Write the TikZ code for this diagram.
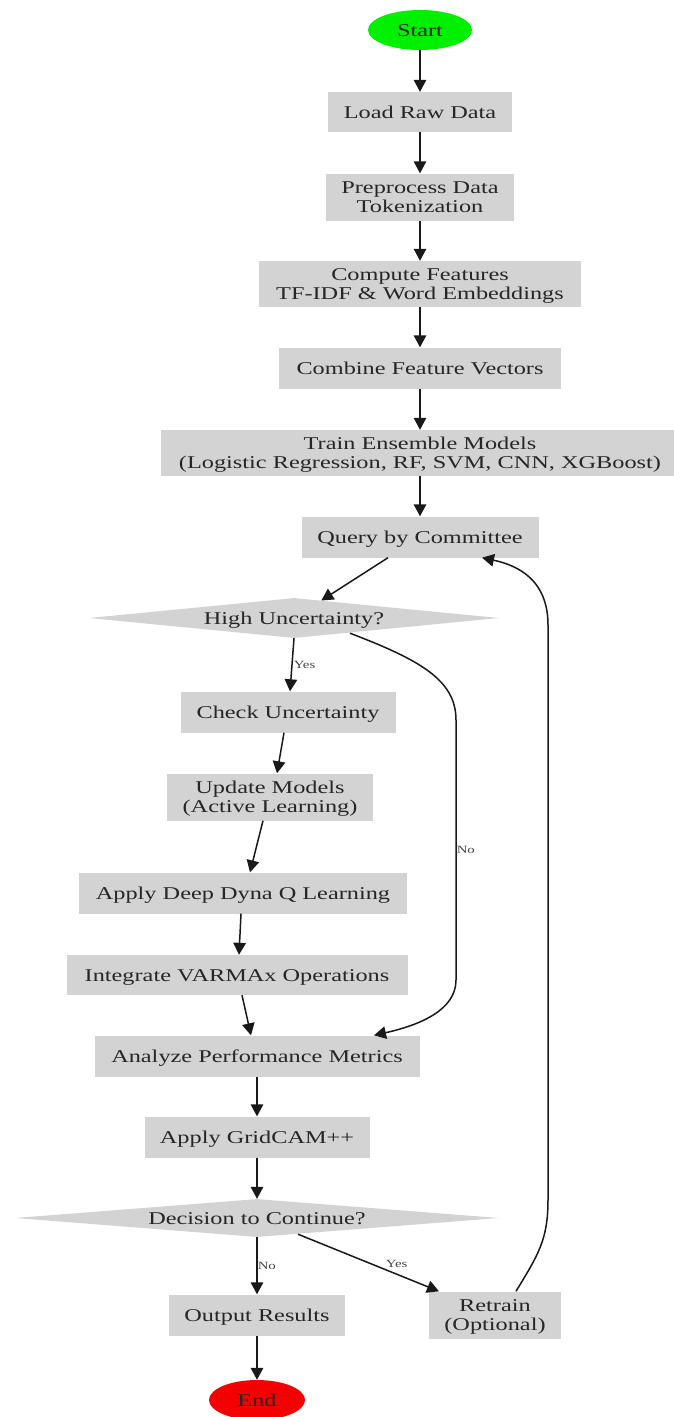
\documentclass[tikz,border=0pt]{standalone}
\usepackage{graphicx}
\usepackage{fontspec}
\setmainfont{Liberation Serif}
\usetikzlibrary{shapes.geometric,arrows.meta,calc}
\definecolor{boxgray}{HTML}{D3D3D3}
\definecolor{txt}{HTML}{262626}
\definecolor{labtxt}{HTML}{444444}
\definecolor{startgreen}{HTML}{00F000}
\definecolor{endred}{HTML}{F50000}
\newcommand{\wt}[1]{\raisebox{-2.5pt}[\height][\depth]{\scalebox{1.35}[1]{\fontsize{18}{18.7}\selectfont\begin{tabular}{@{}c@{}}#1\end{tabular}}}}
\newcommand{\lt}[1]{\scalebox{1.35}[1]{\fontsize{11}{12}\selectfont #1}}
\tikzset{
  box/.style={rectangle, fill=boxgray, inner sep=0pt, text=txt},
  dia/.style={diamond, fill=boxgray, inner sep=0pt},
  term/.style={ellipse, inner sep=0pt, text=txt},
  arr/.style={-{Triangle[length=12pt,width=12.5pt]}, line width=1.5pt, draw=black!90},
  lab/.style={text=labtxt, inner sep=1pt}
}
\begin{document}
\begin{tikzpicture}[x=1pt,y=-1pt]
\useasboundingbox (0,0) rectangle (673,1417);
\node[term, fill=startgreen, minimum width=104pt, minimum height=40pt] (start) at (420,30) {\wt{Start}};
\node[box, minimum width=184pt, minimum height=40pt] (load) at (420,112) {\wt{Load Raw Data}};
\node[box, minimum width=188pt, minimum height=47pt] (pre) at (420,197) {\wt{Preprocess Data\\Tokenization}};
\node[box, minimum width=322pt, minimum height=46pt] (cf) at (420,284) {\wt{Compute Features\\TF-IDF \& Word Embeddings}};
\node[box, minimum width=282pt, minimum height=41pt] (comb) at (420,368) {\wt{Combine Feature Vectors}};
\node[box, minimum width=518pt, minimum height=46pt] (train) at (420,453) {\wt{Train Ensemble Models\\(Logistic Regression, RF, SVM, CNN, XGBoost)}};
\node[box, minimum width=237pt, minimum height=41pt] (q) at (420,537) {\wt{Query by Committee}};
\node[dia, minimum width=410pt, minimum height=40pt, label={[text=txt]center:\wt{High Uncertainty?}}] (hu) at (294,618) {};
\node[box, minimum width=215pt, minimum height=41pt] (ck) at (288,712) {\wt{Check Uncertainty}};
\node[box, minimum width=206pt, minimum height=47pt] (upd) at (270,797) {\wt{Update Models\\(Active Learning)}};
\node[box, minimum width=328pt, minimum height=41pt] (dyna) at (243,893) {\wt{Apply Deep Dyna Q Learning}};
\node[box, minimum width=341pt, minimum height=40pt] (int) at (237,975) {\wt{Integrate VARMAx Operations}};
\node[box, minimum width=325pt, minimum height=41pt] (an) at (257,1056) {\wt{Analyze Performance Metrics}};
\node[box, minimum width=225pt, minimum height=41pt] (gc) at (257,1137) {\wt{Apply GridCAM++}};
\node[dia, minimum width=484pt, minimum height=38pt, label={[text=txt]center:\wt{Decision to Continue?}}] (dc) at (257,1218) {};
\node[box, minimum width=176pt, minimum height=41pt] (out) at (257,1315) {\wt{Output Results}};
\node[box, minimum width=132pt, minimum height=47pt] (re) at (495,1315) {\wt{Retrain\\(Optional)}};
\node[term, fill=endred, minimum width=96pt, minimum height=40pt] (end) at (257,1400) {\wt{End}};

\draw[arr] (start) -- (load);
\draw[arr] (load) -- (pre);
\draw[arr] (pre) -- (cf);
\draw[arr] (cf) -- (comb);
\draw[arr] (comb) -- (train);
\draw[arr] (train) -- (q);
\draw[arr] ($(q.south)+(-32,0)$) -- (hu);
\draw[arr] (hu.south) -- node[lab, anchor=west, pos=0.5] {\lt{Yes}} ($(ck.north)+(2,0)$);
\draw[arr] ($(ck.south)+(-4,0)$) -- ($(upd.north)+(7,0)$);
\draw[arr] ($(upd.south)+(-7,0)$) -- ($(dyna.north)+(7,0)$);
\draw[arr] ($(dyna.south)+(-2,0)$) -- ($(int.north)+(2,0)$);
\draw[arr] ($(int.south)+(5,0)$) -- ($(an.north)+(-6,0)$);
\draw[arr] ($(hu.south)+(56,-5)$) .. controls (420,660) and (456,680) .. (456,720)
   -- node[lab, anchor=west, pos=0.5, xshift=-1pt] {\lt{No}} (456,980)
   .. controls (456,1010) and (420,1025) .. ($(an.north)+(117,0)$);
\draw[arr] (an) -- (gc);
\draw[arr] (gc) -- (dc);
\draw[arr] (dc.south) -- node[lab, anchor=west, pos=0.5, xshift=-1pt] {\lt{No}} (out.north);
\draw[arr] ($(dc.south)+(41,-3)$) -- node[lab, pos=0.7, yshift=10pt] {\lt{Yes}} ($(re.north)+(-56,0)$);
\draw[arr] ($(re.north)+(21,0)$) .. controls (538,1255) and (548,1240) .. (548,1200)
   -- (548,625) .. controls (548,590) and (530,568) .. ($(q.south)+(62,0)$);
\draw[arr] (out) -- (end);
\end{tikzpicture}
\end{document}
